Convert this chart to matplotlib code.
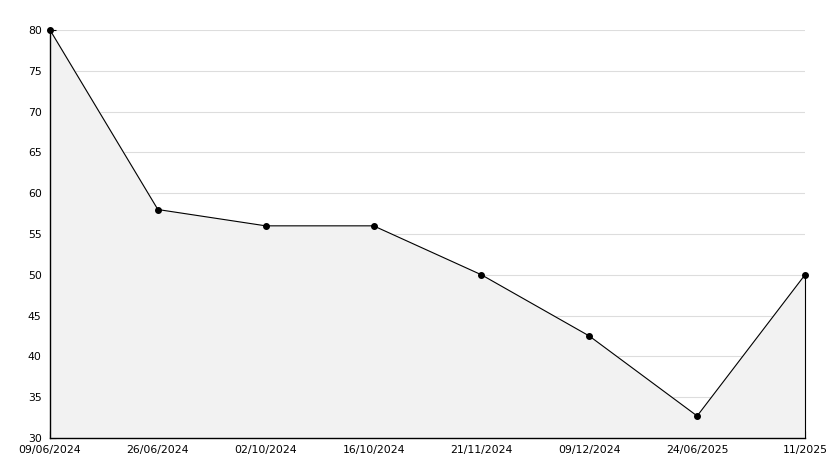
import matplotlib
matplotlib.use("Agg")
import matplotlib.pyplot as plt
from matplotlib.ticker import MultipleLocator

dates = ["09/06/2024", "26/06/2024", "02/10/2024", "16/10/2024",
         "21/11/2024", "09/12/2024", "24/06/2025", "11/2025"]
values = [80, 58, 56, 56, 50, 42.5, 32.7, 50]

fig = plt.figure(figsize=(8.34, 4.68), dpi=100)
ax = fig.add_axes([50/834, 1-438/468, 755/834, 408/468])
x = list(range(len(dates)))

ax.fill_between(x, values, 30, color="#f2f2f2", zorder=1)
ax.plot([x[-1], x[-1]], [30, values[-1]], color="black", lw=0.8, zorder=3,
        clip_on=False)
ax.plot(x, values, color="black", lw=0.8, marker="o", markersize=4, zorder=4,
        clip_on=False)

ax.set_xlim(0, len(dates)-1)
ax.set_ylim(30, 80)
ax.yaxis.set_major_locator(MultipleLocator(5))
ax.yaxis.set_minor_locator(MultipleLocator(1))
ax.set_xticks(x)
ax.set_xticklabels(dates)
ax.grid(axis="y", which="major", color="#dddddd", lw=0.8, zorder=0)
ax.set_axisbelow(True)

for s in ["top", "right"]:
    ax.spines[s].set_visible(False)
for s in ["left", "bottom"]:
    ax.spines[s].set_linewidth(1.0)
    ax.spines[s].set_zorder(5)

ax.tick_params(axis="y", which="major", direction="in", length=4, width=0.8,
               labelsize=7.8, pad=6)
ax.tick_params(axis="y", which="minor", direction="in", length=3, width=0.8)
ax.tick_params(axis="x", which="major", direction="in", length=5, width=0.8,
               labelsize=7.8, pad=5)

fig.canvas.draw()
# nudge the lowest y label up slightly so it sits above the first date label
lbl = ax.get_yticklabels()[0]
import matplotlib.transforms as mtransforms
lbl.set_transform(lbl.get_transform() + mtransforms.ScaledTranslation(0, 2/100, fig.dpi_scale_trans))

fig.savefig("out.png", dpi=100)
